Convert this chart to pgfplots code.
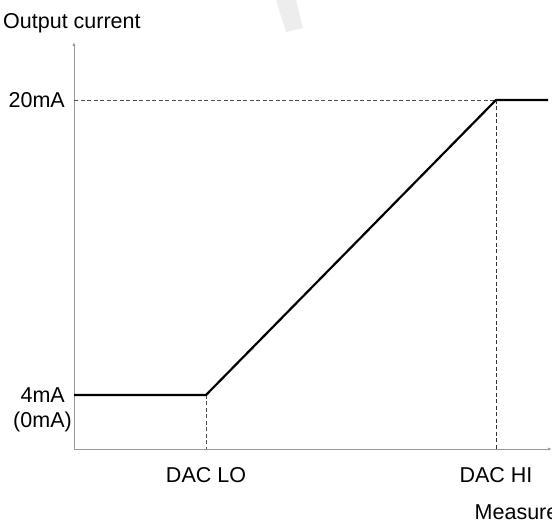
\documentclass[border=0pt]{standalone}
\usepackage{pgfplots}
\pgfplotsset{compat=1.18}
\usetikzlibrary{arrows.meta}
\usepackage{fontspec}
\setmainfont{Liberation Sans}
\newcommand\lbl{\fontsize{21.5bp}{25bp}\selectfont}

\begin{document}
\begin{tikzpicture}[x=1bp,y=1bp]
\useasboundingbox (0,0) rectangle (552,524);
% faint watermark stroke
\fill[gray!14] (276,524) -- (296,524) -- (303,496) -- (286,492) -- cycle;
\begin{axis}[
    at={(74bp,75bp)}, anchor=south west,
    scale only axis,
    width=478bp, height=407bp,
    xmin=-45.52, xmax=119.31,
    ymin=1.071, ymax=23.146,
    axis lines=left,
    axis line style={gray!80, line width=0.9bp, -{Latex[length=4bp,width=3bp]}},
    major tick length=0,
    xtick={0,100}, xticklabels={DAC LO, DAC HI},
    ytick={4,20}, yticklabels={4mA, 20mA},
    xticklabel style={font=\lbl, inner sep=0, anchor=center, yshift=-26bp},
    yticklabel style={font=\lbl, inner sep=0, anchor=east, xshift=-9bp},
    clip=false,
]
% reference lines
\addplot[black!70, line width=0.9bp, dash pattern=on 4bp off 2.5bp] coordinates {(-45.52,20) (100,20)};
\addplot[black!70, line width=0.9bp, dash pattern=on 4bp off 2.5bp] coordinates {(0,4) (0,1.071)};
\addplot[black!80, line width=0.9bp, dash pattern=on 4bp off 2.5bp] coordinates {(100,20) (100,1.071)};
% output characteristic
\addplot[black, line width=2.2bp, line join=round] coordinates {
    (-45.52,4) (0,4) (100,20) (117.93,20)
};
\end{axis}
\node[font=\lbl, inner sep=0, anchor=base west] at (3,495) {Output current};
\node[font=\lbl, inner sep=0, anchor=base] at (42.5,96) {(0mA)};
\node[font=\lbl, inner sep=0, anchor=base west] at (474.5,4) {Measured value};
\end{tikzpicture}
\end{document}
